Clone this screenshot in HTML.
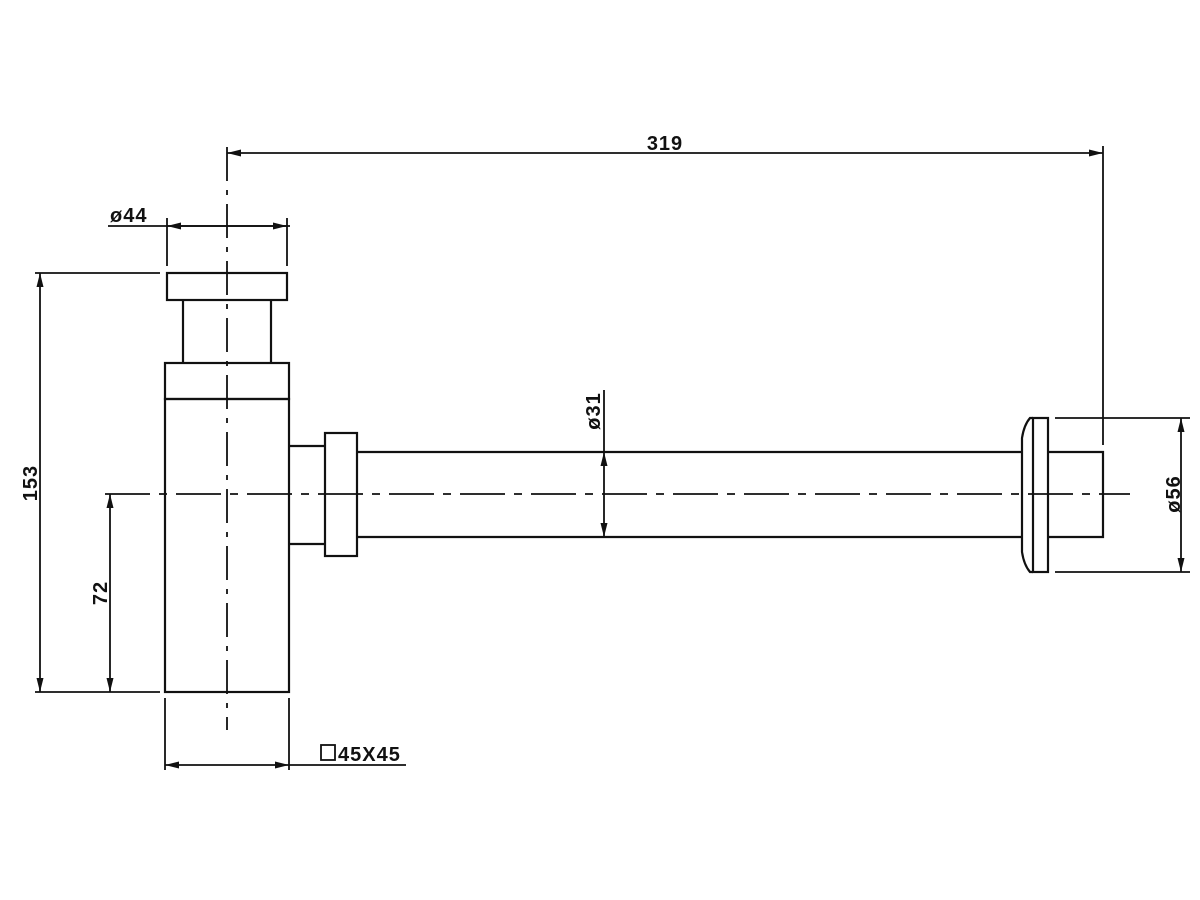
<!DOCTYPE html>
<html><head><meta charset="utf-8"><style>
html,body{margin:0;padding:0;background:#fff;width:1200px;height:900px;overflow:hidden}
text{font-family:"Liberation Sans","DejaVu Sans",sans-serif;font-weight:bold;font-size:20px;letter-spacing:1px;fill:#111}
</style></head><body>
<svg width="1200" height="900" viewBox="0 0 1200 900" xmlns="http://www.w3.org/2000/svg">
<defs>
<marker id="a" viewBox="0 0 14 7" refX="14" refY="3.5" markerWidth="14" markerHeight="7" markerUnits="userSpaceOnUse" orient="auto-start-reverse"><path d="M0,0 L14,3.5 L0,7 Z" fill="#111"/></marker>
</defs>
<g stroke="#111" fill="none" stroke-width="1.8">
<rect x="167" y="273" width="120" height="27" stroke-width="2.2"/>
<line x1="183" y1="300" x2="183" y2="363" stroke-width="2.2"/>
<line x1="271" y1="300" x2="271" y2="363" stroke-width="2.2"/>
<rect x="165" y="363" width="124" height="36" stroke-width="2.2"/>
<rect x="165" y="399" width="124" height="293" stroke-width="2.2"/>
<path d="M289,446 H325 M289,544 H325" stroke-width="2.2"/>
<rect x="325" y="433" width="32" height="123" stroke-width="2.2"/>
<path d="M357,452 H1022 M357,537 H1022" stroke-width="2.2"/>
<path d="M1033,418 L1030,418 Q1024,425 1022,438 L1022,552 Q1024,565 1030,572 L1033,572" stroke-width="2.2"/>
<rect x="1033" y="418" width="15" height="154" stroke-width="2.2"/>
<path d="M1048,452 H1103 V537 H1048" stroke-width="2.2"/>
<line x1="227" y1="147" x2="227" y2="730" stroke-dasharray="34,9,5,9"/>
<line x1="105" y1="494" x2="1130" y2="494" stroke-dasharray="45,9,8,9"/>
<line x1="227" y1="153" x2="1103" y2="153" marker-start="url(#a)" marker-end="url(#a)"/>
<line x1="1103" y1="146" x2="1103" y2="445"/>
<line x1="108" y1="226" x2="290" y2="226"/>
<line x1="167" y1="226" x2="287" y2="226" marker-start="url(#a)" marker-end="url(#a)"/>
<line x1="167" y1="218" x2="167" y2="266"/>
<line x1="287" y1="218" x2="287" y2="266"/>
<line x1="35" y1="273" x2="160" y2="273"/>
<line x1="35" y1="692" x2="160" y2="692"/>
<line x1="40" y1="273" x2="40" y2="692" marker-start="url(#a)" marker-end="url(#a)"/>
<line x1="110" y1="494" x2="110" y2="692" marker-start="url(#a)" marker-end="url(#a)"/>
<line x1="165" y1="698" x2="165" y2="770"/>
<line x1="289" y1="698" x2="289" y2="770"/>
<line x1="165" y1="765" x2="289" y2="765" marker-start="url(#a)" marker-end="url(#a)"/>
<line x1="289" y1="765" x2="406" y2="765"/>
<rect x="321" y="745" width="14" height="15" stroke-width="1.8"/>
<line x1="604" y1="390" x2="604" y2="452"/>
<line x1="604" y1="452" x2="604" y2="537" marker-start="url(#a)" marker-end="url(#a)"/>
<path d="M540,452 H610 M540,537 H610"/>
<line x1="1055" y1="418" x2="1190" y2="418"/>
<line x1="1055" y1="572" x2="1190" y2="572"/>
<line x1="1181" y1="418" x2="1181" y2="572" marker-start="url(#a)" marker-end="url(#a)"/>
</g>
<text x="665" y="150" text-anchor="middle">319</text>
<text x="110" y="222">ø44</text>
<text x="338" y="761">45X45</text>
<text transform="translate(37,483) rotate(-90)" text-anchor="middle">153</text>
<text transform="translate(107,593) rotate(-90)" text-anchor="middle">72</text>
<text transform="translate(600,411) rotate(-90)" text-anchor="middle">ø31</text>
<text transform="translate(1180,494) rotate(-90)" text-anchor="middle">ø56</text>
</svg>
</body></html>
